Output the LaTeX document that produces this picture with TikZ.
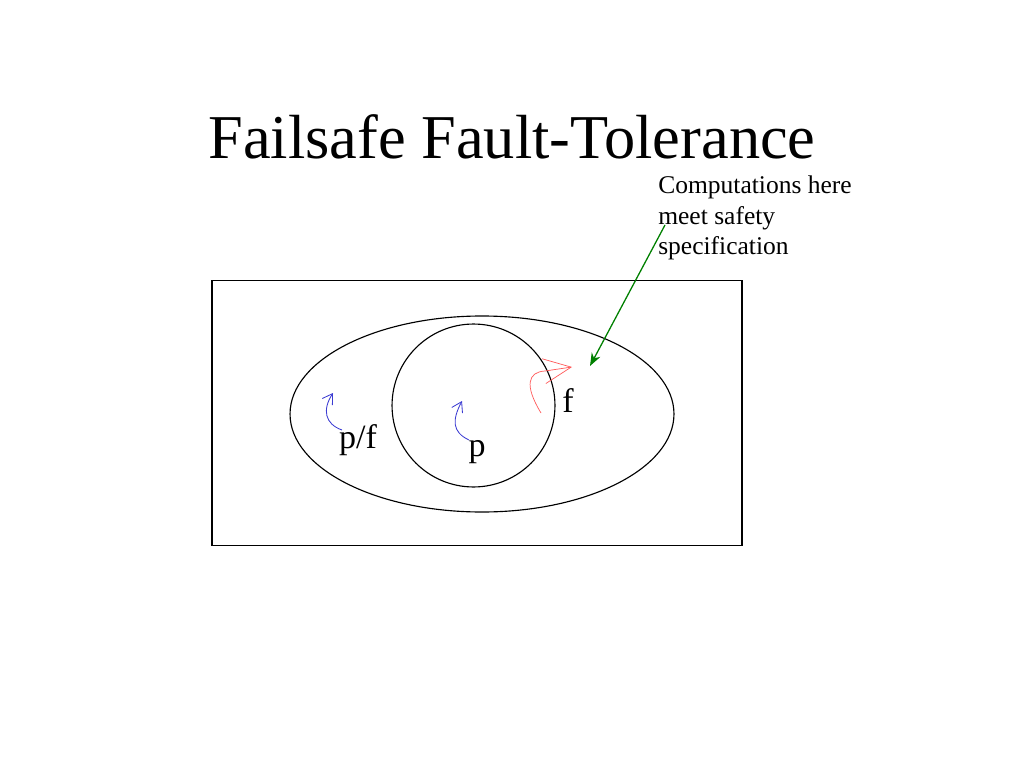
\documentclass[tikz,border=0pt]{standalone}
\usepackage{fontspec}
\setmainfont{Liberation Serif}
\usetikzlibrary{positioning,arrows.meta,shapes.geometric}
\definecolor{notegreen}{RGB}{0,128,0}
\definecolor{faultred}{RGB}{255,90,90}
\definecolor{progblue}{RGB}{60,60,210}
\begin{document}
\begin{tikzpicture}[x=0.0248cm, y=-0.0248cm,
  region/.style={draw=black, line width=0.8pt, inner sep=0pt, outer sep=0pt},
  lbl/.style={font=\fontsize{24}{28}\selectfont, inner sep=0pt},
  progarrow/.style={progblue, line width=0.6pt, -{Straight Barb[length=2.4mm, width=3mm]}},
  faultarrow/.style={faultred, line width=0.5pt, -{Straight Barb[length=6.8mm, width=6.2mm]}}]
\useasboundingbox (0,0) rectangle (1024,768);
% Title
\node[font=\fontsize{44}{50}\selectfont] (title) at (512,137) {Failsafe Fault-Tolerance};
% State space, span and invariant
\node[region, rectangle, minimum width=13.14cm, minimum height=6.55cm] (space) at (477,413) {};
\node[region, ellipse, minimum width=9.52cm, minimum height=4.86cm] (span) at (482,414) {};
\node[region, circle, minimum size=4.04cm] (inv) at (473.5,405.5) {};
% Note on safety
\node[anchor=north west, align=left, inner sep=0pt,
  font=\fontsize{18}{21.3}\selectfont] (note) at (658,176)
  {Computations here\\meet safety\\specification};
\coordinate (notefoot) at (665,225);
\coordinate (safe) at (590,366);
\draw[notegreen, line width=0.9pt, -{Stealth[length=3.2mm, width=2.4mm]}] (notefoot) -- (safe);
% Fault transition
\draw[faultarrow] (541,413) .. controls (524,385) and (528,372) .. (545,371) -- (572,367);
% Program transitions
\draw[progarrow] (342,430) .. controls (325,424) and (322,410) .. (333,393);
\draw[progarrow] (469,440) .. controls (452,432) and (452,420) .. (462,401);
% Labels
\node[lbl] (pflbl) at (358,440) {p/f};
\node[lbl] (plbl) at (477,452) {p};
\node[lbl] (flbl) at (568,401) {f};
\end{tikzpicture}
\end{document}
